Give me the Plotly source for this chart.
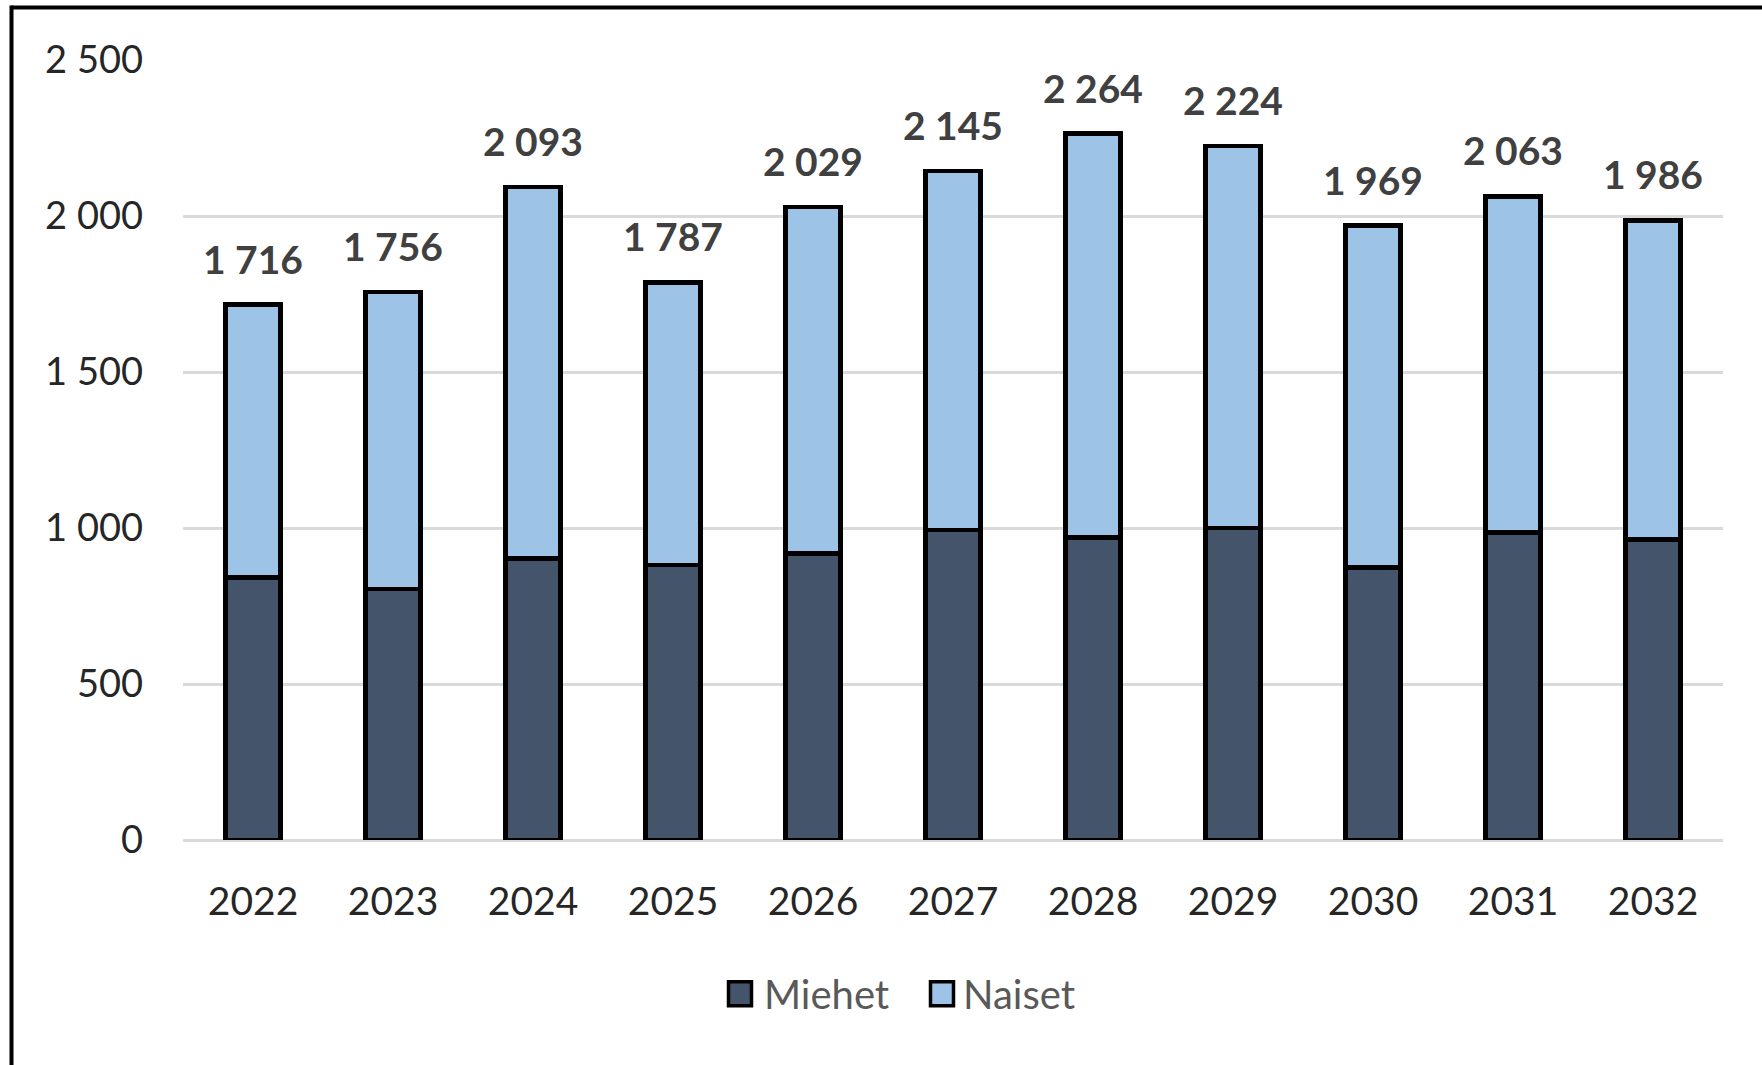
import plotly.graph_objects as go

years = ["2022", "2023", "2024", "2025", "2026", "2027", "2028", "2029", "2030", "2031", "2032"]
totals = [1716, 1756, 2093, 1787, 2029, 2145, 2264, 2224, 1969, 2063, 1986]
miehet = [842, 805, 903, 881, 919, 993, 970, 1000, 873, 986, 963]
naiset = [t - m for t, m in zip(totals, miehet)]
series_names = ["Miehet", "Naiset"]
colors = ["#44546A", "#9DC3E6"]

W, H = 1762, 1065
L, R = 183, 1723
TOP, BOT = 59.6, 840.5
PW, PH = R - L, BOT - TOP

def px(x):
    return (x - L) / PW

def py(y):
    return (BOT - y) / PH

FONT = "Lato"

fig = go.Figure()
for name, vals, col in zip(series_names, [miehet, naiset], colors):
    fig.add_trace(go.Bar(
        x=years, y=vals, name=name,
        marker=dict(color=col, line=dict(color="black", width=4.5)),
        showlegend=False, hoverinfo="x+y+name",
    ))

def fmt(v):
    return f"{v:,}".replace(",", " ")

for i, t in enumerate(totals):
    fig.add_annotation(x=i, y=t, text=fmt(t), showarrow=False, yshift=46,
                       yanchor="middle",
                       font=dict(family=FONT, size=39, color="#404040", weight="bold"))

# custom legend
leg = [(727, 762), (929, 961)]
for (sx, tx), name, col in zip(leg, series_names, colors):
    fig.add_shape(type="rect", xref="paper", yref="paper",
                  x0=px(sx + 1.5), x1=px(sx + 24.5), y0=py(982.5), y1=py(1006.5),
                  fillcolor=col, line=dict(color="black", width=3.5))
    fig.add_annotation(xref="paper", yref="paper", x=px(tx), y=py(994.5), text=name,
                       showarrow=False, xanchor="left", yanchor="middle",
                       font=dict(family=FONT, size=40, color="#595959"))

# outer border (top and left)
fig.add_shape(type="line", xref="paper", yref="paper", x0=px(11.5), x1=px(1770),
              y0=py(7), y1=py(7), line=dict(color="black", width=4))
fig.add_shape(type="line", xref="paper", yref="paper", x0=px(11.5), x1=px(11.5),
              y0=py(5), y1=py(1075), line=dict(color="black", width=4))

fig.update_layout(
    width=W, height=H,
    margin=dict(l=L, r=W - R, t=TOP, b=H - BOT, pad=0),
    barmode="stack", bargap=0.61,
    plot_bgcolor="white", paper_bgcolor="white",
    separators=", ",
    font=dict(family=FONT, size=38, color="#262626"),
    showlegend=False,
)
fig.update_xaxes(type="category", range=[-0.5, len(years) - 0.5], autorange=False,
                 showgrid=False, showline=False, ticks="", ticklabelstandoff=35,
                 tickfont=dict(family=FONT, size=39, color="#262626"))
fig.update_yaxes(range=[0, 2500], autorange=False, dtick=500, tickformat=",d", showgrid=True,
                 gridcolor="#D9D9D9", gridwidth=3, zeroline=True, zerolinecolor="#D9D9D9",
                 zerolinewidth=3, showline=False, ticks="", ticklabelstandoff=39,
                 tickfont=dict(family=FONT, size=38, color="#262626"))

fig.write_html("out.html", config={"displayModeBar": False},
               post_script="document.body.style.margin='0';document.body.style.overflow='hidden';")
